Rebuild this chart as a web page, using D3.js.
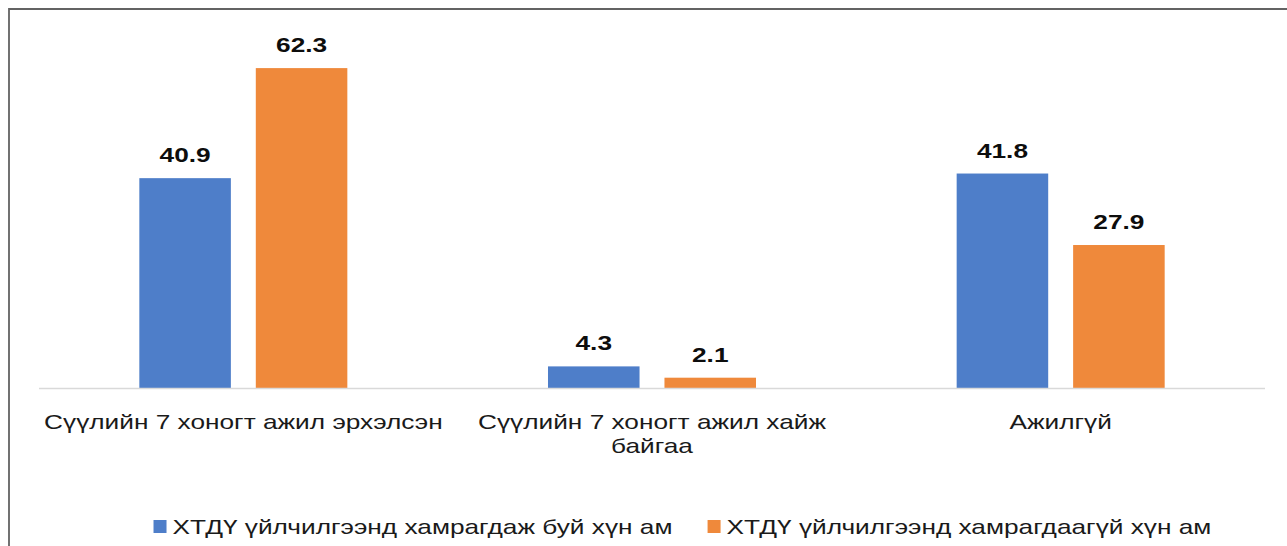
<!DOCTYPE html>
<html>
<head>
<meta charset="utf-8">
<script src="https://cdn.jsdelivr.net/npm/d3@7"></script>
<style>
  html, body { margin: 0; padding: 0; background: #fff; overflow: hidden; }
  svg { display: block; font-family: "Liberation Sans", Arial, sans-serif; }
</style>
</head>
<body>
<script>
// Chart data
var categories = ['Сүүлийн 7 хоногт ажил эрхэлсэн', 'Сүүлийн 7 хоногт ажил хайж байгаа', 'Ажилгүй'];
var seriesNames = ['ХТДҮ үйлчилгээнд хамрагдаж буй хүн ам', 'ХТДҮ үйлчилгээнд хамрагдаагүй хүн ам'];
var coveredValues = [40.9, 4.3, 41.8];
var notCoveredValues = [62.3, 2.1, 27.9];

var seriesColors = ['#4e7ec9', '#ef893b'];

// Picture is a bit wider than tall, so text gets stretched sideways
var textStretch = 1.25;
var fontSize = 21;

var width = 1287, height = 546;
var plot = { left: 39, right: 1265, top: 28.5, bottom: 388.5 };

var svg = d3.select('body').append('svg')
  .attr('width', width)
  .attr('height', height);

// Frame (only top and left edges are in the picture)
svg.append('path')
  .attr('d', 'M9,' + height + ' L9,9 L' + width + ',9')
  .attr('fill', 'none')
  .attr('stroke', '#636363')
  .attr('stroke-width', 1.8);

var x0 = d3.scaleBand()
  .domain(categories)
  .range([plot.left, plot.right])
  .paddingInner(0.491)
  .paddingOuter(0.2455);

var x1 = d3.scaleBand()
  .domain(seriesNames)
  .range([0, x0.bandwidth()])
  .paddingInner(0.214);

var y = d3.scaleLinear()
  .domain([0, 70])
  .range([plot.bottom, plot.top]);

var rows = categories.map(function(c, i) {
  return { cat: c, values: [coveredValues[i], notCoveredValues[i]] };
});

var groups = svg.selectAll('g.cat')
  .data(rows)
  .enter()
  .append('g')
  .attr('class', 'cat')
  .attr('transform', function(d) { return 'translate(' + x0(d.cat) + ',0)'; });

var bars = groups.selectAll('g.bar')
  .data(function(d) {
    return d.values.map(function(v, j) { return { name: seriesNames[j], value: v, idx: j }; });
  })
  .enter()
  .append('g')
  .attr('class', 'bar');

bars.append('rect')
  .attr('x', function(d) { return x1(d.name); })
  .attr('y', function(d) { return y(d.value); })
  .attr('width', x1.bandwidth())
  .attr('height', function(d) { return y(0) - y(d.value); })
  .attr('fill', function(d) { return seriesColors[d.idx]; });

// Value labels
bars.append('text')
  .attr('transform', function(d) {
    return 'translate(' + (x1(d.name) + x1.bandwidth() / 2) + ',' + (y(d.value) - 16) + ') scale(' + textStretch + ',1)';
  })
  .attr('text-anchor', 'middle')
  .attr('font-size', fontSize)
  .attr('font-weight', 'bold')
  .attr('fill', '#0d0d0d')
  .text(function(d) { return d.value.toFixed(1); });

// Baseline
svg.append('line')
  .attr('x1', plot.left)
  .attr('x2', plot.right)
  .attr('y1', y(0))
  .attr('y2', y(0))
  .attr('stroke', '#d9d9d9')
  .attr('stroke-width', 1.5);

// Category labels, wrapped to the band step
var measure = svg.append('text').attr('font-size', fontSize).attr('visibility', 'hidden');
var textWidth = function(s) {
  measure.text(s);
  return measure.node().getComputedTextLength() * textStretch;
};

var wrapLabel = function(label, maxWidth) {
  var words = label.split(' ');
  var lines = [];
  var line = words[0];
  for (var i = 1; i < words.length; i++) {
    var tryLine = line + ' ' + words[i];
    if (textWidth(tryLine) > maxWidth) {
      lines.push(line);
      line = words[i];
    } else {
      line = tryLine;
    }
  }
  lines.push(line);
  return lines;
};

categories.forEach(function(c) {
  var cx = x0(c) + x0.bandwidth() / 2;
  var lines = wrapLabel(c, x0.step());
  lines.forEach(function(l, k) {
    svg.append('text')
      .attr('transform', 'translate(' + cx + ',' + (plot.bottom + 40.5 + k * 24) + ') scale(' + textStretch + ',1)')
      .attr('text-anchor', 'middle')
      .attr('font-size', fontSize)
      .attr('fill', '#1a1a1a')
      .text(l);
  });
});

// Legend
var legendY = 534, swatch = 13, swatchGap = 6, itemGap = 35;
var itemWidths = seriesNames.map(function(s) { return swatch + swatchGap + textWidth(s); });
var legendWidth = d3.sum(itemWidths) + itemGap * (seriesNames.length - 1);
var lx = 682.5 - legendWidth / 2;

seriesNames.forEach(function(s, i) {
  var item = svg.append('g').attr('transform', 'translate(' + lx + ',0)');
  item.append('rect')
    .attr('x', 0)
    .attr('y', legendY - 14)
    .attr('width', swatch)
    .attr('height', swatch)
    .attr('fill', seriesColors[i]);
  item.append('text')
    .attr('transform', 'translate(' + (swatch + swatchGap) + ',' + legendY + ') scale(' + textStretch + ',1)')
    .attr('font-size', fontSize)
    .attr('fill', '#1a1a1a')
    .text(s);
  lx += itemWidths[i] + itemGap;
});

measure.remove();
</script>
</body>
</html>
